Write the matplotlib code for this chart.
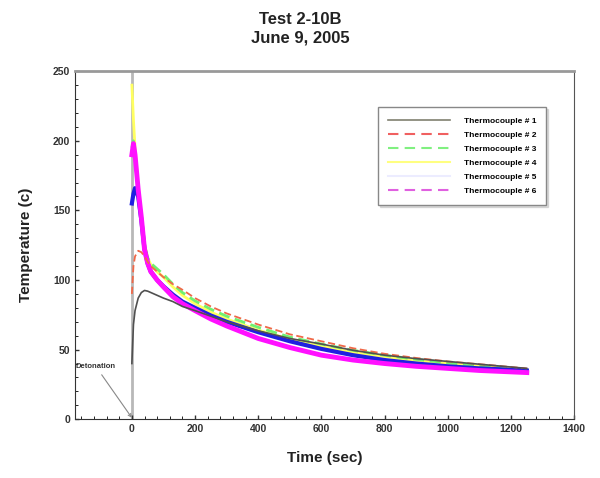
import matplotlib.pyplot as plt
from matplotlib.lines import Line2D

plt.rcParams['font.family'] = ['Liberation Sans', 'DejaVu Sans']

# time grid (sec)
t = [0, 5, 10, 20, 30, 40, 50, 60, 80, 100, 130, 160, 200, 250, 300,
     400, 500, 600, 700, 800, 900, 1000, 1100, 1200, 1250]

tc1 = [40, 68, 78, 87, 91, 92.5, 92, 91, 89, 87, 84.5, 81, 78, 74, 70,
       63.5, 58, 54, 49.5, 46, 43.5, 41.5, 39.5, 37.5, 36.5]
tc2 = [90, 110, 117, 121, 120, 117, 113, 110, 106, 102, 97, 93, 87, 81, 76,
       68, 61, 56, 51, 47, 44, 41.5, 39.5, 37.5, 36.5]
tc3 = [195, 200, 188, 165, 145, 125, 116, 112, 108, 104, 97, 91, 85, 79, 74,
       66, 59, 54, 49.5, 46, 43, 40.5, 38.5, 36.5, 35.5]
tc4 = [240, 215, 195, 168, 147, 126, 116, 111, 106, 102, 95, 89, 83, 77, 72,
       64, 57.5, 52.5, 48, 45, 42, 40, 38, 36, 35]
tc5 = [155, 162, 166, 160, 143, 122, 112, 106, 100, 95.5, 89.5, 84.5, 80, 74.5, 70,
       62.5, 56, 50.5, 46, 42.5, 40, 38, 36.5, 35.5, 35]
tc6 = [190, 198, 190, 165, 145, 122, 112, 106, 100, 95, 88, 83, 78, 72, 67,
       58, 51.5, 46, 42.5, 40, 38, 36.5, 35, 34, 33.5]

labels = ['Thermocouple # 1', 'Thermocouple # 2', 'Thermocouple # 3',
          'Thermocouple # 4', 'Thermocouple # 5', 'Thermocouple # 6']

fig = plt.figure(figsize=(6, 4.78), dpi=100)
ax = fig.add_axes([0.125, 0.123, 0.832, 0.728])

# detonation marker line
ax.plot([0, 0], [0, 250], color='#b8b8b8', lw=2, zorder=1)

ax.plot(t, tc4, color='#ffff60', lw=2, zorder=2)
ax.plot(t, tc3, color='#70f070', lw=2, ls=(0, (4, 2)), zorder=3)
ax.plot(t, tc5, color='#2020e0', lw=3, zorder=4)
ax.plot(t, tc6, color='#ff10ff', lw=3.5, zorder=5)
ax.plot(t, tc2, color='#f06848', lw=1.3, ls=(0, (4, 2)), zorder=6)
ax.plot(t, tc1, color='#505050', lw=1.2, zorder=7)

ax.annotate('Detonation', xy=(0, 1), xytext=(-178, 37), fontsize=5.5,
            fontweight='bold', color='#333333',
            arrowprops=dict(arrowstyle='->', color='#888888', lw=0.8,
                            shrinkA=2, shrinkB=0))

ax.set_xlim(-180, 1400)
ax.set_ylim(0, 250)
ax.set_xticks(range(0, 1401, 200))
ax.set_yticks(range(0, 251, 50))
ax.set_xticks(range(-160, 1400, 40), minor=True)
ax.set_yticks(range(0, 250, 10), minor=True)
ax.tick_params(direction='in', labelsize=7.5, length=3, width=1, colors='#333333')
ax.tick_params(which='minor', direction='in', length=2)
for lab in ax.get_xticklabels() + ax.get_yticklabels():
    lab.set_fontweight('bold')

ax.spines['top'].set_color('#999999')
ax.spines['top'].set_linewidth(2)
ax.spines['right'].set_color('#555555')
ax.spines['left'].set_color('#333333')
ax.spines['bottom'].set_color('#333333')

ax.set_xlabel('Time (sec)', fontsize=11, fontweight='bold', color='#222222', labelpad=12)
ax.set_ylabel('Temperature (c)', fontsize=11, fontweight='bold', color='#222222', labelpad=14)

fig.suptitle('Test 2-10B\nJune 9, 2005', fontsize=12, fontweight='bold',
             color='#222222', y=0.975, linespacing=1.3)

handles = [
    Line2D([], [], color='#808070', lw=1.2),
    Line2D([], [], color='#f06060', lw=1.5, ls=(0, (5, 3))),
    Line2D([], [], color='#80f080', lw=1.5, ls=(0, (5, 3))),
    Line2D([], [], color='#ffff80', lw=1.5),
    Line2D([], [], color='#ececff', lw=1.5),
    Line2D([], [], color='#e060e0', lw=1.5, ls=(0, (5, 3))),
]
leg = ax.legend(handles, labels, loc='upper right', bbox_to_anchor=(0.944, 0.897),
                fontsize=6, handlelength=7.5, labelspacing=0.75, frameon=True,
                fancybox=False, shadow={'ox': 1.5, 'oy': -1.5, 'color': '#bbbbbb'},
                borderpad=1.2, handletextpad=1.6, borderaxespad=0)
leg.get_frame().set_edgecolor('#888888')
for txt in leg.get_texts():
    txt.set_fontweight('bold')

plt.savefig('out.png', dpi=100)
